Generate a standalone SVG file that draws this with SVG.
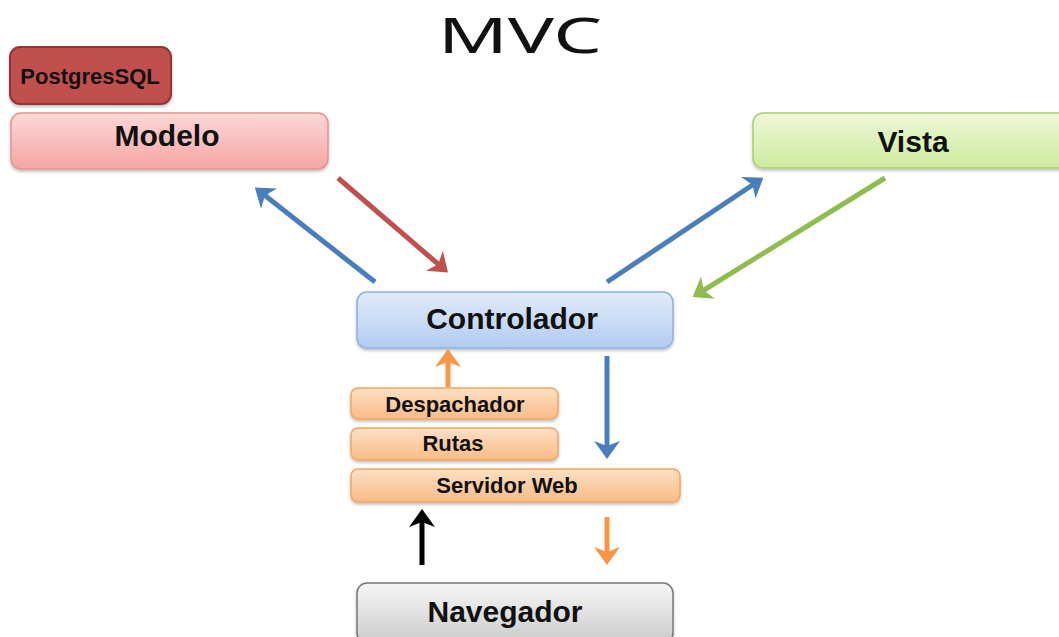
<svg xmlns="http://www.w3.org/2000/svg" width="1059" height="637" viewBox="0 0 1059 637">
<defs>
<linearGradient id="gRed" x1="0" y1="0" x2="0" y2="1"><stop offset="0" stop-color="#fcd9d8"/><stop offset="1" stop-color="#f4a5a3"/></linearGradient>
<linearGradient id="gGreen" x1="0" y1="0" x2="0" y2="1"><stop offset="0" stop-color="#eef8d8"/><stop offset="1" stop-color="#cdea9c"/></linearGradient>
<linearGradient id="gBlue" x1="0" y1="0" x2="0" y2="1"><stop offset="0" stop-color="#e2ecfb"/><stop offset="1" stop-color="#b2cbf1"/></linearGradient>
<linearGradient id="gOrange" x1="0" y1="0" x2="0" y2="1"><stop offset="0" stop-color="#fde0c4"/><stop offset="1" stop-color="#f9bb86"/></linearGradient>
<linearGradient id="gGray" x1="0" y1="0" x2="0" y2="1"><stop offset="0" stop-color="#f6f6f6"/><stop offset="1" stop-color="#cbcbcb"/></linearGradient>
<filter id="sh" x="-5%" y="-10%" width="110%" height="130%"><feDropShadow dx="0" dy="2" stdDeviation="1.5" flood-color="#000" flood-opacity="0.25"/></filter>
<marker id="aBlue" viewBox="0 0 18 26" refX="14" refY="13" markerWidth="18" markerHeight="26" orient="auto" markerUnits="userSpaceOnUse"><path d="M0,0 L18,13 L0,26 L5,13 z" fill="#4a7ebb"/></marker>
<marker id="aRed" viewBox="0 0 18 26" refX="14" refY="13" markerWidth="18" markerHeight="26" orient="auto" markerUnits="userSpaceOnUse"><path d="M0,0 L18,13 L0,26 L5,13 z" fill="#c0504d"/></marker>
<marker id="aGreen" viewBox="0 0 18 26" refX="14" refY="13" markerWidth="18" markerHeight="26" orient="auto" markerUnits="userSpaceOnUse"><path d="M0,0 L18,13 L0,26 L5,13 z" fill="#8fbc4f"/></marker>
<marker id="aOrange" viewBox="0 0 18 26" refX="14" refY="13" markerWidth="18" markerHeight="26" orient="auto" markerUnits="userSpaceOnUse"><path d="M0,0 L18,13 L0,26 L5,13 z" fill="#f79646"/></marker>
<marker id="aBlack" viewBox="0 0 18 26" refX="14" refY="13" markerWidth="18" markerHeight="26" orient="auto" markerUnits="userSpaceOnUse"><path d="M0,0 L18,13 L0,26 L5,13 z" fill="#000"/></marker>
</defs>
<style>
.lbl{font-family:"Liberation Sans",Arial,sans-serif;font-weight:bold;fill:#111;text-anchor:middle}
.big{font-size:30px}
.sm{font-size:22px}
.c{fill:none;stroke-width:5;stroke-linecap:butt}
</style>
<rect width="1059" height="637" fill="#fff"/>
<text x="438" y="53" font-family="'Noto Sans','DejaVu Sans',sans-serif" font-weight="400" font-size="50" textLength="164" lengthAdjust="spacingAndGlyphs" fill="#111">MVC</text>

<g id="postgres"><rect x="10" y="47" width="161" height="57" rx="10" fill="#c0504d" stroke="#8c3836" stroke-width="2" filter="url(#sh)"/><text class="lbl sm" x="90" y="84">PostgresSQL</text></g>
<g id="modelo"><rect x="11" y="113" width="317" height="56" rx="10" fill="url(#gRed)" stroke="#e9908e" stroke-width="1.5" filter="url(#sh)"/><text class="lbl big" x="167" y="146">Modelo</text></g>
<g id="vista"><rect x="753" y="113" width="320" height="55" rx="10" fill="url(#gGreen)" stroke="#a9d06f" stroke-width="1.5" filter="url(#sh)"/><text class="lbl big" x="913" y="152">Vista</text></g>
<g id="controlador"><rect x="357" y="292" width="316" height="56" rx="10" fill="url(#gBlue)" stroke="#8fb0dd" stroke-width="1.5" filter="url(#sh)"/><text class="lbl big" x="512" y="329">Controlador</text></g>
<g id="despachador"><rect x="351" y="388" width="207" height="31" rx="7" fill="url(#gOrange)" stroke="#f4a460" stroke-width="1.5" filter="url(#sh)"/><text class="lbl sm" x="455" y="412">Despachador</text></g>
<g id="rutas"><rect x="351" y="428" width="207" height="32" rx="7" fill="url(#gOrange)" stroke="#f4a460" stroke-width="1.5" filter="url(#sh)"/><text class="lbl sm" x="453" y="451">Rutas</text></g>
<g id="servidor"><rect x="351" y="469" width="329" height="33" rx="7" fill="url(#gOrange)" stroke="#f4a460" stroke-width="1.5" filter="url(#sh)"/><text class="lbl sm" x="507" y="493">Servidor Web</text></g>
<g id="navegador"><rect x="357" y="583" width="316" height="60" rx="10" fill="url(#gGray)" stroke="#777" stroke-width="1.5" filter="url(#sh)"/><text class="lbl big" x="505" y="622">Navegador</text></g>

<g id="connectors">
<line class="c" x1="375" y1="282" x2="258" y2="190" stroke="#4a7ebb" marker-end="url(#aBlue)"/>
<line class="c" x1="338" y1="178" x2="445" y2="270" stroke="#c0504d" marker-end="url(#aRed)"/>
<line class="c" x1="607" y1="282" x2="760" y2="180" stroke="#4a7ebb" marker-end="url(#aBlue)"/>
<line class="c" x1="885" y1="178" x2="696" y2="295" stroke="#8fbc4f" marker-end="url(#aGreen)"/>
<line class="c" x1="448" y1="387" x2="448" y2="353" stroke="#f79646" marker-end="url(#aOrange)"/>
<line class="c" x1="607" y1="356" x2="607" y2="455" stroke="#4a7ebb" marker-end="url(#aBlue)"/>
<line class="c" x1="422" y1="565" x2="422" y2="513" stroke="#000" marker-end="url(#aBlack)"/>
<line class="c" x1="607" y1="517" x2="607" y2="561" stroke="#f79646" marker-end="url(#aOrange)"/>
</g>
</svg>
